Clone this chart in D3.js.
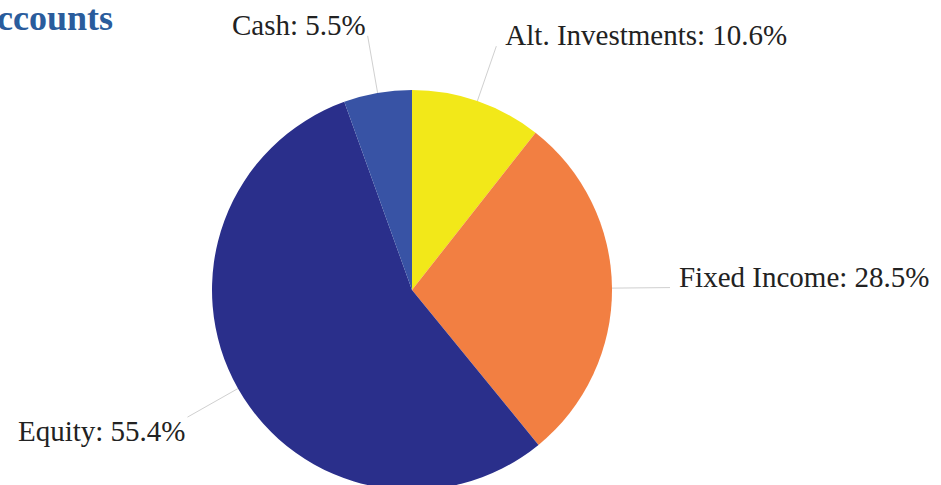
<!DOCTYPE html>
<html>
<head>
<meta charset="utf-8">
<script src="https://cdn.jsdelivr.net/npm/d3@7"></script>
<style>
  body { margin: 0; background: #fff; }
  svg { display: block; }
</style>
</head>
<body>
<div id="chart"></div>
<script>
// allocation data, clockwise from 12 o'clock
const categories = ["Alt. Investments", "Fixed Income", "Equity", "Cash"];
const shares = [10.6, 28.5, 55.4, 5.5];
const colors = ["#f2e819", "#f27f42", "#2a2f8b", "#3853a5"];

const width = 941, height = 485;
const cx = 412, cy = 290, radius = 200;
const lineLen = 58;

const svg = d3.select("#chart").append("svg")
  .attr("width", width)
  .attr("height", height);

// title, cut at the left edge like the source
svg.append("text")
  .attr("x", 113)
  .attr("y", 30)
  .attr("text-anchor", "end")
  .style("font-family", "'Liberation Serif', 'Times New Roman', serif")
  .style("font-weight", "bold")
  .style("font-size", "36px")
  .style("fill", "#2a5c9c")
  .text("Accounts");

const data = categories.map((c, i) => ({ label: c, value: shares[i], color: colors[i] }));

const pie = d3.pie().sort(null).value(d => d.value);
const arcs = pie(data);
const arc = d3.arc().innerRadius(0).outerRadius(radius);

const g = svg.append("g").attr("transform", `translate(${cx},${cy})`);

g.selectAll("path.slice")
  .data(arcs)
  .join("path")
  .attr("class", "slice")
  .attr("d", arc)
  .attr("fill", d => d.data.color);

// leader lines: radial, from the rim outwards
const mid = d => (d.startAngle + d.endAngle) / 2;
const pt = (d, r) => [Math.sin(mid(d)) * r, -Math.cos(mid(d)) * r];

g.selectAll("line.leader")
  .data(arcs)
  .join("line")
  .attr("class", "leader")
  .attr("x1", d => pt(d, radius)[0])
  .attr("y1", d => pt(d, radius)[1])
  .attr("x2", d => pt(d, radius + lineLen)[0])
  .attr("y2", d => pt(d, radius + lineLen)[1])
  .attr("stroke", "#d0d0d0")
  .attr("stroke-width", 1);

g.selectAll("text.label")
  .data(arcs)
  .join("text")
  .attr("class", "label")
  .attr("x", d => {
    const [x] = pt(d, radius + lineLen);
    return Math.sin(mid(d)) >= 0 ? x + 9 : x - 2;
  })
  .attr("y", d => {
    const [, y] = pt(d, radius + lineLen);
    return -Math.cos(mid(d)) > 0.3 ? y + 24 : y - 1;
  })
  .attr("text-anchor", d => Math.sin(mid(d)) >= 0 ? "start" : "end")
  .style("font-family", "'Liberation Serif', 'Times New Roman', serif")
  .style("font-size", "29px")
  .style("fill", "#222")
  .text(d => `${d.data.label}: ${d.data.value.toFixed(1)}%`);
</script>
</body>
</html>
